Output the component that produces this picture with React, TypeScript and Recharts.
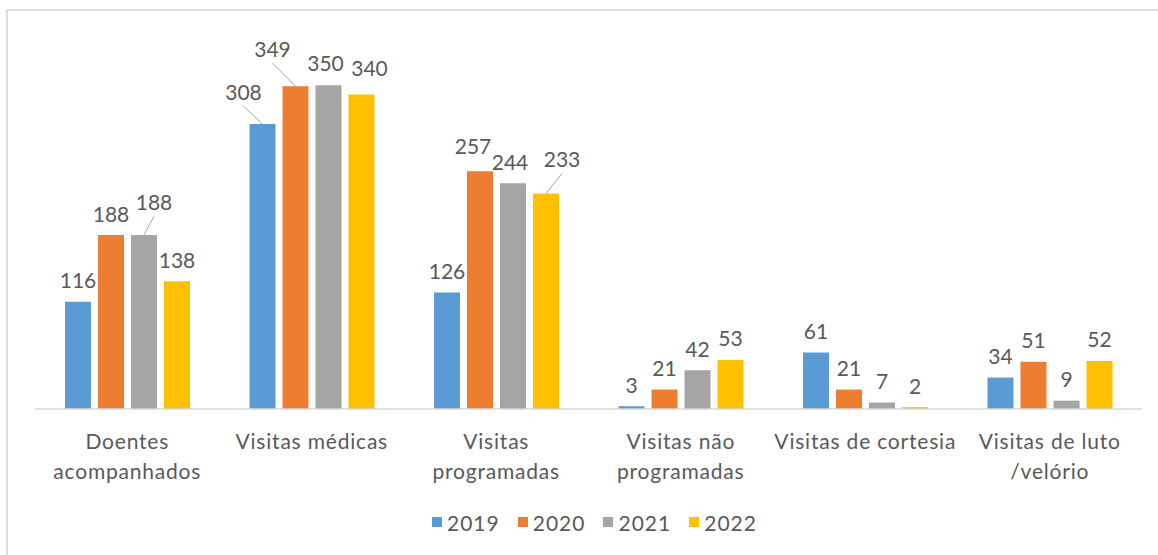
import { BarChart, Bar, XAxis, YAxis, LabelList, Legend } from 'recharts';

const CATEGORIES = [
  'Doentes acompanhados',
  'Visitas médicas',
  'Visitas programadas',
  'Visitas não programadas',
  'Visitas de cortesia',
  'Visitas de luto /velório',
];
// how each category label wraps under the axis
const TICK_LINES = [
  ['Doentes', 'acompanhados'],
  ['Visitas médicas'],
  ['Visitas', 'programadas'],
  ['Visitas não', 'programadas'],
  ['Visitas de cortesia'],
  ['Visitas de luto', '/velório'],
];
const YEARS = ['2019', '2020', '2021', '2022'];
const V2019 = [116, 308, 126, 3, 61, 34];
const V2020 = [188, 349, 257, 21, 21, 51];
const V2021 = [188, 350, 244, 42, 7, 9];
const V2022 = [138, 340, 233, 53, 2, 52];

const SERIES_VALUES = [V2019, V2020, V2021, V2022];
const COLORS = ['#5B9BD5', '#ED7D31', '#A5A5A5', '#FFC000'];
const TEXT = '#595959';
const FONT = 'Lato, "Noto Sans", sans-serif';

// labels that were moved away from the bar top ("category-series"); leader draws a line
const NUDGES: Record<string, { dx: number; dy: number; leader?: boolean }> = {
  '0-2': { dx: 10, dy: -12, leader: true },
  '1-0': { dx: -19, dy: -11, leader: true },
  '1-1': { dx: -23, dy: -16, leader: true },
  '1-2': { dx: -3, dy: -1 },
  '1-3': { dx: 8, dy: -5 },
  '2-1': { dx: -7, dy: -4 },
  '2-2': { dx: -3, dy: 0 },
  '2-3': { dx: 16, dy: -13, leader: true },
};

const data = CATEGORIES.map((name, i) => {
  const row: Record<string, string | number> = { name };
  YEARS.forEach((y, s) => {
    row[y] = SERIES_VALUES[s][i];
  });
  return row;
});

function makeLabel(seriesIdx: number) {
  return (props: any) => {
    const { x, y, width, value, index } = props;
    const cx = Number(x) + Number(width) / 2;
    const top = Number(y);
    const nudge = NUDGES[`${index}-${seriesIdx}`];
    const lx = cx + (nudge ? nudge.dx : 0);
    const ly = top - 22 + (nudge ? nudge.dy : 0);
    return (
      <g>
        {nudge?.leader && <line x1={cx} y1={top} x2={lx} y2={ly + 15} stroke="#A6A6A6" strokeWidth={1} />}
        <text
          x={lx}
          y={ly}
          textAnchor="middle"
          dominantBaseline="central"
          fill={TEXT}
          fontSize={21}
          fontFamily={FONT}
        >
          {value}
        </text>
      </g>
    );
  };
}

function CategoryTick(props: any) {
  const { x, y, payload } = props;
  const lines = TICK_LINES[payload.index] ?? [payload.value];
  return (
    <g>
      {lines.map((line: string, i: number) => (
        <text
          key={i}
          x={x}
          y={y + 31 + i * 30}
          textAnchor="middle"
          dominantBaseline="central"
          fill={TEXT}
          fontSize={21}
          fontFamily={FONT}
          letterSpacing={0.8}
        >
          {line}
        </text>
      ))}
    </g>
  );
}

function LegendContent() {
  return (
    <div style={{ display: 'flex', alignItems: 'center', height: 24, fontFamily: FONT }}>
      {YEARS.map((year, i) => (
        <div key={year} style={{ display: 'flex', alignItems: 'center', marginRight: 18 }}>
          <span style={{ width: 10, height: 10, background: COLORS[i], marginRight: 5, display: 'inline-block' }} />
          <span style={{ fontSize: 21, color: TEXT, letterSpacing: 1 }}>{year}</span>
        </div>
      ))}
    </div>
  );
}

export default function App() {
  return (
    <div style={{ position: 'absolute', left: 0, top: 0, width: 1158, height: 555, background: '#fff' }}>
      <div
        style={{
          position: 'absolute',
          left: 6,
          top: 9,
          right: 0,
          bottom: 0,
          borderLeft: '2px solid #DDDDDD',
          borderTop: '2px solid #DDDDDD',
        }}
      />
      <div style={{ position: 'absolute', left: 0, top: 0 }}>
        <BarChart
          width={1158}
          height={555}
          data={data}
          margin={{ top: 39, right: 16, left: 35, bottom: 0 }}
          barGap={7}
        >
          <XAxis
            dataKey="name"
            height={146}
            interval={0}
            tickLine={false}
            tickSize={0}
            tickMargin={0}
            axisLine={{ stroke: '#D9D9D9', strokeWidth: 1.5 }}
            tick={<CategoryTick />}
          />
          <YAxis hide domain={[0, 400]} />
          <Legend
            layout="horizontal"
            verticalAlign="middle"
            align="center"
            content={<LegendContent />}
            wrapperStyle={{ top: 510, left: 432, width: 700, height: 24 }}
          />
          {YEARS.map((year, s) => (
            <Bar key={year} dataKey={year} fill={COLORS[s]} barSize={26} isAnimationActive={false}>
              <LabelList dataKey={year} content={makeLabel(s)} />
            </Bar>
          ))}
        </BarChart>
      </div>
    </div>
  );
}
